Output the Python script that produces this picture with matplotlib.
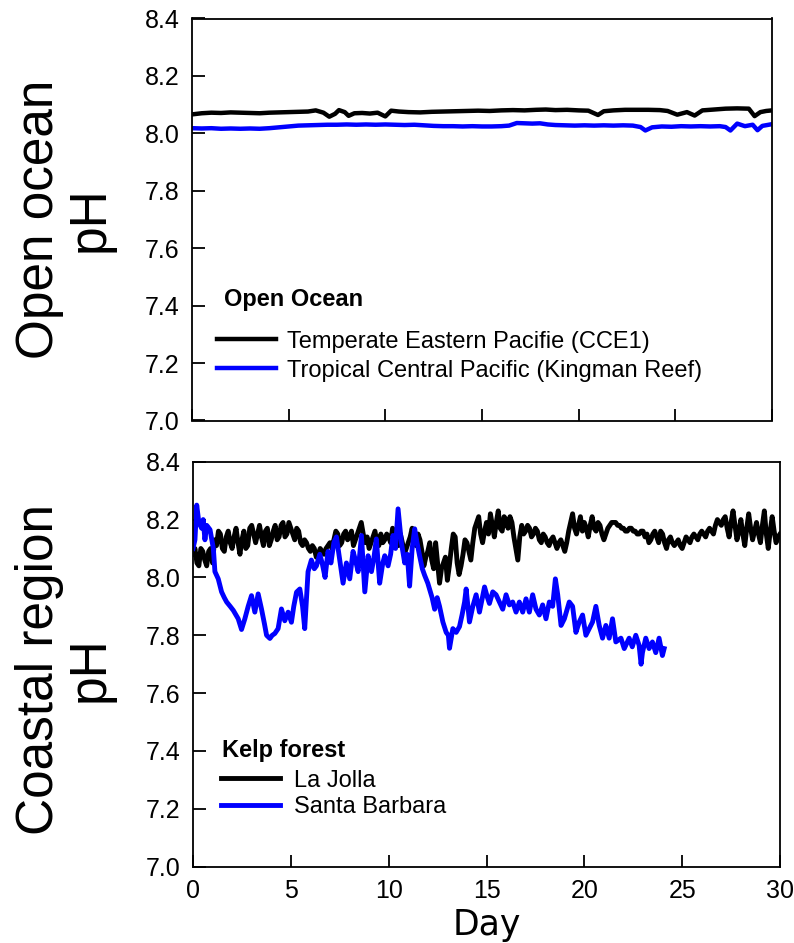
import matplotlib
matplotlib.use('Agg')
import matplotlib.pyplot as plt

# ---- Open ocean (top panel) ----
cce1_day = [0, 0.5, 1, 1.5, 2, 2.5, 3, 3.5, 4, 4.5, 5, 5.5, 6, 6.4, 6.8, 7.1, 7.4, 7.6, 7.9, 8.1,
            8.4, 8.8, 9.2, 9.6, 10.0, 10.3, 10.7, 11.2, 11.8, 12.4, 13, 13.6, 14.2, 14.8, 15.4, 16,
            16.6, 17.2, 17.8, 18.3, 18.8, 19.4, 20, 20.5, 21.0, 21.3, 21.8, 22.4, 23, 23.6, 24.2,
            24.6, 25.1, 25.6, 26.0, 26.4, 27, 27.6, 28.2, 28.8, 29.1, 29.4, 29.7, 30]
cce1_ph = [8.066, 8.070, 8.072, 8.071, 8.073, 8.072, 8.071, 8.070, 8.072, 8.073, 8.074, 8.075, 8.076,
           8.080, 8.072, 8.058, 8.068, 8.081, 8.074, 8.061, 8.070, 8.071, 8.069, 8.072, 8.059, 8.079,
           8.076, 8.074, 8.073, 8.075, 8.076, 8.077, 8.078, 8.079, 8.078, 8.080, 8.081, 8.080, 8.082,
           8.083, 8.081, 8.082, 8.080, 8.079, 8.064, 8.077, 8.080, 8.082, 8.082, 8.082, 8.081, 8.078,
           8.065, 8.074, 8.062, 8.080, 8.083, 8.086, 8.087, 8.086, 8.060, 8.074, 8.078, 8.080]

kingman_day = [0, 0.5, 1, 1.5, 2, 2.5, 3, 3.5, 4, 4.5, 5, 5.5, 6, 6.5, 7, 7.5, 8, 8.5, 9, 9.5, 10,
               10.5, 11, 11.5, 12, 12.5, 13, 13.5, 14, 14.5, 15, 15.5, 16, 16.4, 16.8, 17.2, 17.6, 18,
               18.4, 18.8, 19.3, 19.8, 20.3, 20.8, 21.3, 21.8, 22.3, 22.8, 23.2, 23.45, 23.8, 24.3,
               24.8, 25.3, 25.8, 26.3, 26.8, 27.3, 27.6, 27.85, 28.2, 28.6, 29.0, 29.25, 29.5, 30]
kingman_ph = [8.018, 8.017, 8.018, 8.016, 8.017, 8.016, 8.017, 8.016, 8.018, 8.021, 8.024, 8.027,
              8.028, 8.029, 8.030, 8.030, 8.031, 8.030, 8.031, 8.030, 8.031, 8.030, 8.029, 8.030,
              8.028, 8.026, 8.025, 8.025, 8.024, 8.025, 8.024, 8.024, 8.025, 8.027, 8.036, 8.035,
              8.034, 8.035, 8.031, 8.029, 8.028, 8.027, 8.028, 8.027, 8.028, 8.027, 8.028, 8.027,
              8.022, 8.010, 8.021, 8.024, 8.023, 8.025, 8.024, 8.025, 8.024, 8.025, 8.022, 8.010,
              8.034, 8.025, 8.030, 8.011, 8.026, 8.032]

# ---- Kelp forest (bottom panel) ----
# La Jolla, one reading every 0.1 day
lajolla_day = [round(0.1 * i, 1) for i in range(301)]
lajolla_ph = [8.08, 8.10, 8.05, 8.04, 8.10, 8.09, 8.06, 8.04, 8.09, 8.10, 8.05,
              8.13, 8.11, 8.16, 8.15, 8.10, 8.09, 8.14, 8.16, 8.12, 8.10,
              8.14, 8.17, 8.12, 8.08, 8.13, 8.16, 8.10, 8.11, 8.17, 8.18,
              8.15, 8.12, 8.15, 8.18, 8.14, 8.11, 8.16, 8.17, 8.11, 8.13,
              8.16, 8.18, 8.13, 8.14, 8.18, 8.19, 8.14, 8.15, 8.19, 8.17,
              8.15, 8.13, 8.17, 8.16, 8.12, 8.11, 8.13, 8.12, 8.10, 8.09,
              8.11, 8.10, 8.07, 8.08, 8.10, 8.09, 8.08, 8.10, 8.11, 8.12,
              8.10, 8.13, 8.16, 8.15, 8.11, 8.12, 8.15, 8.16, 8.13, 8.14,
              8.16, 8.11, 8.13, 8.15, 8.17, 8.19, 8.15, 8.12, 8.14, 8.10,
              8.12, 8.14, 8.16, 8.12, 8.11, 8.15, 8.12, 8.13, 8.15, 8.14,
              8.12, 8.17, 8.15, 8.13, 8.11, 8.15, 8.12, 8.08, 8.10, 8.12,
              8.14, 8.17, 8.13, 8.11, 8.15, 8.13, 8.09, 8.04, 8.07, 8.09,
              8.12, 8.06, 8.03, 8.12, 8.05, 7.98, 8.03, 8.05, 8.07, 7.99,
              8.04, 8.10, 8.15, 8.14, 8.05, 8.01, 8.04, 8.08, 8.13, 8.12,
              8.09, 8.06, 8.12, 8.17, 8.19, 8.21, 8.15, 8.12, 8.16, 8.19,
              8.15, 8.22, 8.18, 8.14, 8.19, 8.23, 8.17, 8.16, 8.21, 8.20,
              8.17, 8.21, 8.19, 8.14, 8.10, 8.06, 8.14, 8.18, 8.15, 8.16,
              8.18, 8.17, 8.14, 8.15, 8.17, 8.16, 8.13, 8.12, 8.15, 8.14,
              8.12, 8.11, 8.13, 8.14, 8.12, 8.10, 8.12, 8.13, 8.11, 8.09,
              8.12, 8.16, 8.19, 8.22, 8.17, 8.15, 8.18, 8.21, 8.16, 8.19,
              8.17, 8.14, 8.18, 8.21, 8.17, 8.16, 8.19, 8.18, 8.15, 8.13,
              8.15, 8.17, 8.18, 8.19, 8.19, 8.19, 8.18, 8.18, 8.17, 8.17,
              8.16, 8.16, 8.17, 8.17, 8.16, 8.16, 8.15, 8.15, 8.16, 8.16,
              8.14, 8.15, 8.12, 8.13, 8.15, 8.16, 8.14, 8.12, 8.16, 8.15,
              8.12, 8.10, 8.13, 8.14, 8.12, 8.11, 8.12, 8.13, 8.11, 8.10,
              8.12, 8.14, 8.13, 8.12, 8.14, 8.15, 8.14, 8.13, 8.15, 8.16,
              8.15, 8.14, 8.16, 8.17, 8.16, 8.15, 8.18, 8.20, 8.19, 8.18,
              8.20, 8.21, 8.17, 8.14, 8.19, 8.23, 8.18, 8.13, 8.16, 8.20,
              8.15, 8.11, 8.17, 8.22, 8.17, 8.13, 8.16, 8.19, 8.15, 8.12,
              8.18, 8.23, 8.15, 8.10, 8.16, 8.21, 8.16, 8.12, 8.14, 8.15]

sb_day = [0.0, 0.1, 0.19, 0.3, 0.44, 0.52, 0.61, 0.70, 0.87, 1.04, 1.12, 1.29, 1.46, 1.6, 1.72, 1.9,
          2.06, 2.2, 2.31, 2.48, 2.65, 2.82, 2.99, 3.16, 3.33, 3.50, 3.65, 3.76, 3.93, 4.05, 4.18,
          4.35, 4.52, 4.69, 4.86, 5.03, 5.15, 5.29, 5.46, 5.6, 5.71, 5.88, 6.05, 6.2, 6.31, 6.48,
          6.6, 6.75, 6.9, 7.05, 7.2, 7.33, 7.5, 7.67, 7.84, 8.01, 8.18, 8.3, 8.44, 8.61, 8.78, 8.95,
          9.12, 9.25, 9.37, 9.54, 9.7, 9.8, 9.97, 10.1, 10.22, 10.35, 10.48, 10.65, 10.82, 10.95,
          11.07, 11.2, 11.33, 11.45, 11.58, 11.72, 11.84, 12.0, 12.09, 12.22, 12.35, 12.48, 12.6,
          12.77, 12.94, 13.05, 13.11, 13.2, 13.28, 13.45, 13.62, 13.75, 13.88, 13.96, 14.13, 14.3,
          14.47, 14.64, 14.9, 15.05, 15.15, 15.32, 15.49, 15.66, 15.83, 16.0, 16.17, 16.34, 16.51,
          16.68, 16.85, 17.02, 17.19, 17.36, 17.53, 17.7, 17.87, 18.04, 18.21, 18.38, 18.52, 18.64,
          18.81, 18.98, 19.23, 19.4, 19.57, 19.74, 19.91, 20.08, 20.25, 20.42, 20.59, 20.76, 20.93,
          21.1, 21.27, 21.44, 21.61, 21.87, 22.04, 22.29, 22.45, 22.63, 22.8, 22.9, 22.97, 23.14,
          23.31, 23.48, 23.65, 23.82, 23.99, 24.08]
sb_ph = [8.10, 8.13, 8.25, 8.19, 8.17, 8.20, 8.13, 8.18, 8.165, 8.10, 8.02, 7.995, 7.95, 7.93, 7.915,
         7.90, 7.886, 7.87, 7.857, 7.82, 7.857, 7.90, 7.937, 7.88, 7.943, 7.891, 7.84, 7.80, 7.789,
         7.80, 7.806, 7.823, 7.891, 7.85, 7.88, 7.845, 7.90, 7.949, 7.96, 7.90, 7.823, 8.02, 8.06,
         8.03, 8.04, 8.08, 8.05, 8.00, 8.09, 8.05, 8.12, 8.14, 8.06, 7.98, 8.05, 7.995, 8.09, 8.06,
         8.02, 8.145, 7.95, 8.075, 8.02, 8.07, 8.133, 7.98, 8.05, 8.075, 8.04, 8.08, 8.145, 8.10,
         8.237, 8.12, 8.05, 8.08, 7.97, 8.10, 8.168, 8.12, 8.075, 8.03, 8.007, 7.98, 7.96, 7.93,
         7.89, 7.93, 7.90, 7.846, 7.81, 7.80, 7.755, 7.79, 7.823, 7.81, 7.83, 7.87, 7.915, 7.96,
         7.846, 7.90, 7.94, 7.88, 7.967, 7.93, 7.91, 7.95, 7.94, 7.915, 7.89, 7.94, 7.905, 7.915,
         7.88, 7.915, 7.88, 7.926, 7.88, 7.94, 7.89, 7.87, 7.905, 7.857, 7.915, 7.90, 7.995, 7.94,
         7.834, 7.857, 7.915, 7.90, 7.81, 7.846, 7.87, 7.80, 7.823, 7.846, 7.90, 7.834, 7.79,
         7.834, 7.79, 7.857, 7.777, 7.79, 7.754, 7.79, 7.76, 7.80, 7.765, 7.70, 7.74, 7.79, 7.754,
         7.777, 7.74, 7.79, 7.73, 7.754]

yticks = [7.0, 7.2, 7.4, 7.6, 7.8, 8.0, 8.2, 8.4]
xticks = [0, 5, 10, 15, 20, 25, 30]

plt.rcParams['font.family'] = ['Liberation Sans', 'DejaVu Sans']

fig = plt.figure(figsize=(7.94, 9.43), dpi=100)
ax1 = fig.add_axes([192 / 794, 1 - 420.5 / 943, 580 / 794, 402 / 943])
ax2 = fig.add_axes([193 / 794, 1 - 866.7 / 943, 587 / 794, 405 / 943])

# top panel
ax1.plot(cce1_day, cce1_ph, color='black', lw=3.2, label='Temperate Eastern Pacifie (CCE1)')
ax1.plot(kingman_day, kingman_ph, color='#0000ff', lw=3.2, label='Tropical Central Pacific (Kingman Reef)')

# bottom panel
ax2.plot(lajolla_day, lajolla_ph, color='black', lw=3.5, label='La Jolla')
ax2.plot(sb_day, sb_ph, color='#0000ff', lw=3.5, label='Santa Barbara')

for ax in (ax1, ax2):
    ax.set_xlim(0, 30)
    ax.set_ylim(7.0, 8.4)
    ax.set_yticks(yticks)
    ax.set_yticklabels(['%.1f' % v for v in yticks])
    ax.set_xticks(xticks)
    ax.tick_params(direction='in', length=9, width=1.3, labelsize=18, pad=9,
                   top=False, right=False)
    for s in ax.spines.values():
        s.set_linewidth(1.3)

ax1.tick_params(axis='x', labelbottom=False)

ax1.set_ylabel('Open ocean\npH', fontsize=37, linespacing=1.05)
ax1.yaxis.set_label_coords(-0.133, 0.5)
ax2.set_ylabel('Coastal region\npH', fontsize=37, linespacing=1.05)
ax2.yaxis.set_label_coords(-0.133, 0.488)

ax2.set_xlabel('Day', fontsize=25, family='DejaVu Sans')
ax2.xaxis.set_label_coords(0.5, -0.102)

# legends
ax1.text(0.055, 0.300, 'Open Ocean', transform=ax1.transAxes, fontsize=17,
         fontweight='bold', va='center', ha='left')
ax1.legend(loc='center left', bbox_to_anchor=(0.043, 0.160), frameon=False, fontsize=17,
           borderpad=0, borderaxespad=0, handlelength=2.5, handletextpad=0.45,
           labelspacing=0.3)

ax2.text(0.049, 0.288, 'Kelp forest', transform=ax2.transAxes, fontsize=17,
         fontweight='bold', va='center', ha='left')
ax2.legend(loc='center left', bbox_to_anchor=(0.048, 0.1795), frameon=False, fontsize=17,
           borderpad=0, borderaxespad=0, handlelength=2.5, handletextpad=0.6,
           labelspacing=0.2)

fig.savefig('out.png', dpi=100)
